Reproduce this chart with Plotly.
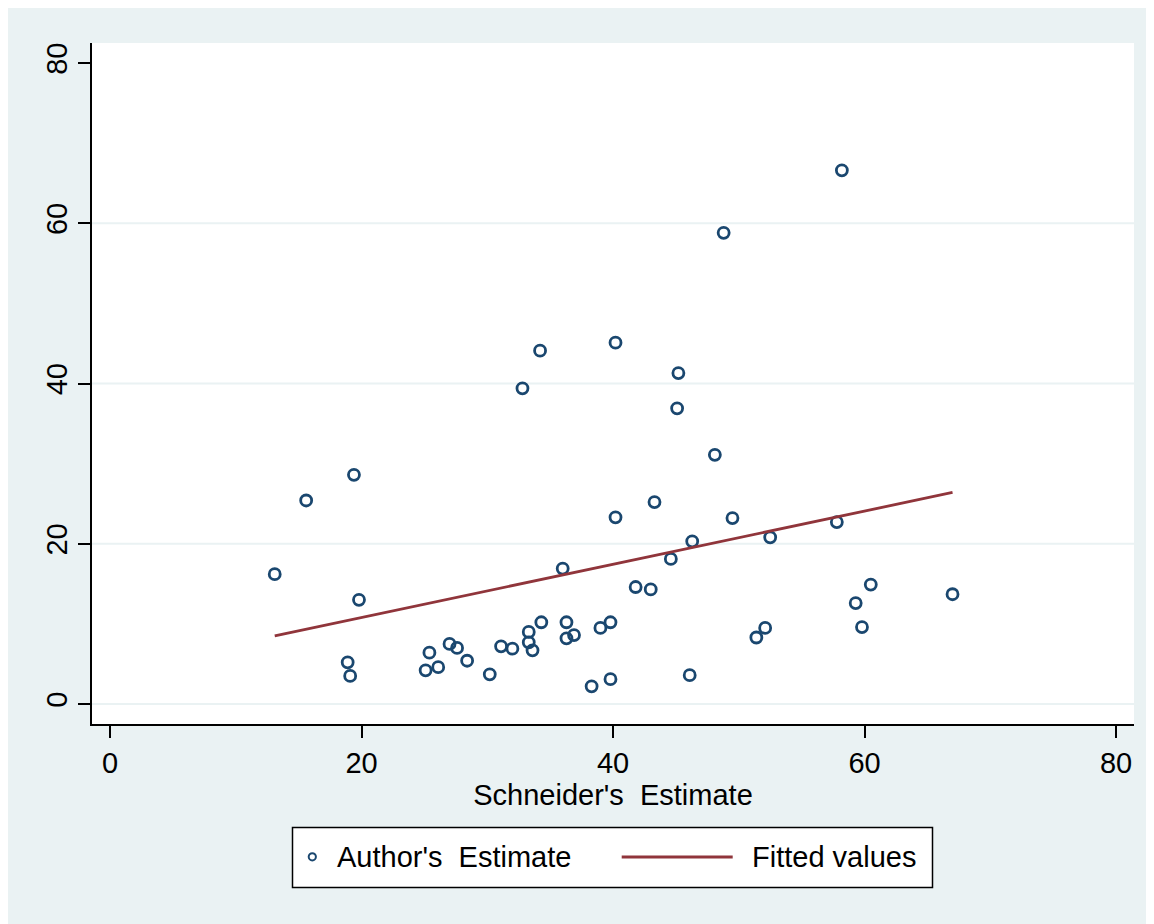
import plotly.graph_objects as go

# ---- data ----
schneider = [13.1, 15.6, 19.4, 19.8, 18.9, 19.1, 25.1, 25.4, 26.1, 27.0,
             27.6, 28.4, 30.2, 31.1, 32.0, 32.8, 33.3, 33.3, 33.6, 34.2,
             34.3, 36.0, 36.3, 36.3, 36.9, 38.3, 39.0, 39.8, 39.8, 40.2,
             40.2, 41.8, 43.0, 43.3, 44.6, 45.1, 45.2, 46.1, 46.3, 48.1,
             48.8, 49.5, 51.4, 52.1, 52.5, 57.8, 58.2, 59.3, 59.8, 60.5,
             67.0]
author = [16.2, 25.4, 28.6, 13.0, 5.2, 3.5, 4.2, 6.4, 4.6, 7.5,
          7.0, 5.4, 3.7, 7.2, 6.9, 39.4, 9.0, 7.7, 6.7, 44.1,
          10.2, 16.9, 10.2, 8.2, 8.6, 2.2, 9.5, 10.2, 3.1, 45.1,
          23.3, 14.6, 14.3, 25.2, 18.1, 36.9, 41.3, 3.6, 20.3, 31.1,
          58.8, 23.2, 8.3, 9.5, 20.8, 22.7, 66.6, 12.6, 9.6, 14.9,
          13.7]
fit_x = [13.1, 67.0]
fit_y = [8.5, 26.4]

x_ticks = [0, 20, 40, 60, 80]
y_ticks = [0, 20, 40, 60, 80]
grid_vals = [0, 20, 40, 60]

NAVY = "#1A476F"
MAROON = "#90353B"
BG = "#EAF2F3"
FONT = "Liberation Sans, Arial, sans-serif"

OFF = 8  # page body margin
W, H = 1170, 924
# plot area in screenshot pixels
SL, SR, ST, SB = 92, 1134, 43, 724
L, R, T, B = SL - OFF, SR - OFF, ST - OFF, SB - OFF


def px_x(p):  # screenshot px -> paper
    return (p - SL) / (SR - SL)


def px_y(p):
    return (SB - p) / (SB - ST)


fig = go.Figure()
fig.add_trace(go.Scatter(
    x=schneider, y=author, mode="markers", name="Author's  Estimate",
    marker=dict(symbol="circle-open", size=11, color=NAVY,
                line=dict(width=2.8, color=NAVY)),
    showlegend=False))
fig.add_trace(go.Scatter(
    x=fit_x, y=fit_y, mode="lines", name="Fitted values",
    line=dict(color=MAROON, width=2.8), showlegend=False))

shapes = []
# horizontal gridlines
for g in grid_vals:
    shapes.append(dict(type="line", xref="paper", yref="y", x0=0, x1=1,
                       y0=g, y1=g, line=dict(color=BG, width=2.2),
                       layer="below"))
# legend box
shapes.append(dict(type="rect", xref="paper", yref="paper",
                   x0=px_x(292.5), x1=px_x(932.5), y0=px_y(887.5), y1=px_y(827.5),
                   fillcolor="white", line=dict(color="black", width=1.5)))
# legend marker
cx, cy, r = 312.3, 856.8, 3.6
shapes.append(dict(type="circle", xref="paper", yref="paper",
                   x0=px_x(cx - r), x1=px_x(cx + r), y0=px_y(cy + r), y1=px_y(cy - r),
                   fillcolor="white", line=dict(color=NAVY, width=2)))
# legend line
shapes.append(dict(type="line", xref="paper", yref="paper",
                   x0=px_x(621.7), x1=px_x(732.7), y0=px_y(857), y1=px_y(857),
                   line=dict(color=MAROON, width=3)))

annotations = [
    dict(text="Author's\u00a0 Estimate", xref="paper", yref="paper",
         x=px_x(335), y=px_y(857), xanchor="left", yanchor="middle",
         showarrow=False, font=dict(family=FONT, size=29, color="black")),
    dict(text="Fitted values", xref="paper", yref="paper",
         x=px_x(750), y=px_y(857), xanchor="left", yanchor="middle",
         showarrow=False, font=dict(family=FONT, size=29, color="black")),
]

axis_common = dict(
    showline=True, linecolor="black", linewidth=1.5,
    ticks="outside", ticklen=12, tickwidth=1.5, tickcolor="black",
    showgrid=False, zeroline=False,
    tickfont=dict(family=FONT, size=29, color="black"),
)

fig.update_layout(
    width=W, height=H, autosize=False,
    margin=dict(l=L, r=W - R, t=T, b=H - B, pad=0),
    paper_bgcolor=BG, plot_bgcolor="white",
    shapes=shapes, annotations=annotations,
    xaxis=dict(range=[(SL - 110) / 12.575, (SR - 110) / 12.575],
               tickmode="array", tickvals=x_ticks,
               ticktext=[str(v) for v in x_ticks],
               title=dict(text="Schneider's\u00a0 Estimate", standoff=3,
                          font=dict(family=FONT, size=29, color="black")),
               **axis_common),
    yaxis=dict(range=[(704 - SB) / 8.0125, (704 - ST) / 8.0125],
               tickmode="array", tickvals=y_ticks,
               ticktext=[str(v) for v in y_ticks],
               tickangle=-90, **axis_common),
    showlegend=False,
)

fig.write_html("out.html",
               post_script="document.documentElement.style.overflow='hidden';"
                           "document.body.style.overflow='hidden';")
